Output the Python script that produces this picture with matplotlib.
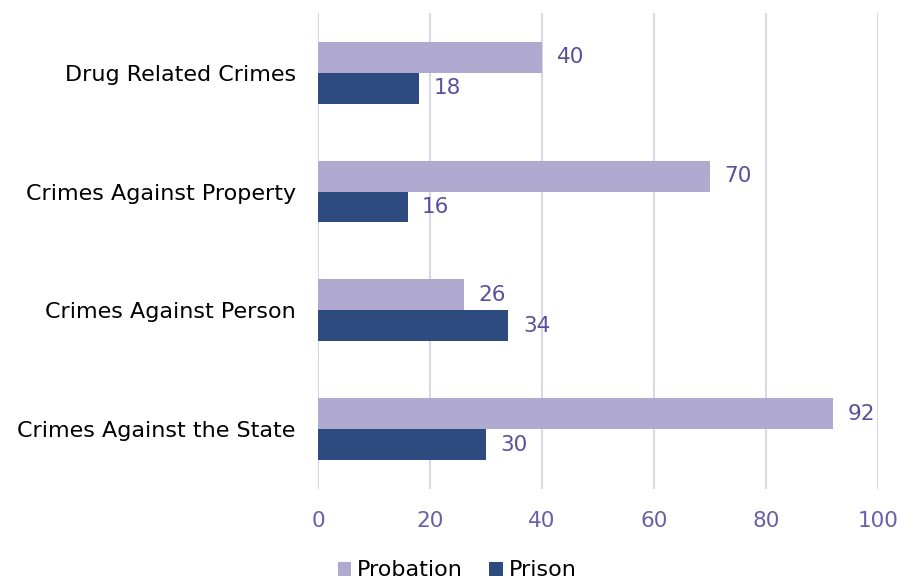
import numpy as np
import matplotlib.pyplot as plt

categories = ["Crimes Against the State", "Crimes Against Person",
              "Crimes Against Property", "Drug Related Crimes"]
probation = [92, 26, 70, 40]
prison = [30, 34, 16, 18]

c_prob = "#B0A9D0"
c_pris = "#2E4B80"
c_text = "#5B4F9C"

plt.rcParams['font.family'] = ['DejaVu Sans']

fig = plt.figure(figsize=(9.18, 5.83), dpi=100)
ax = fig.add_axes([0.3464, 0.162, 0.61, 0.815])

y = np.arange(len(categories))
h = 0.26
b1 = ax.barh(y + h / 2, probation, height=h, color=c_prob, label="Probation")
b2 = ax.barh(y - h / 2, prison, height=h, color=c_pris, label="Prison")

for bars, vals in ((b1, probation), (b2, prison)):
    for bar, v in zip(bars, vals):
        ax.text(v + 2.6, bar.get_y() + bar.get_height() / 2, str(v),
                va="center", ha="left", fontsize=15.5, color=c_text)

ax.set_xlim(0, 100)
ax.set_ylim(-0.5, 3.5)
ax.set_xticks(np.arange(0, 101, 20))
ax.set_yticks(y)
ax.set_yticklabels(categories, fontsize=16, color="black")
ax.tick_params(axis="x", labelsize=15.5, labelcolor="#6A5FA8", length=0, pad=16)
ax.tick_params(axis="y", length=0, pad=16)
ax.grid(axis="x", color="#D9D5EA", linewidth=1.5)
ax.set_axisbelow(True)
for s in ax.spines.values():
    s.set_visible(False)

ax.legend(loc="lower center", bbox_to_anchor=(0.498, -0.03),
          bbox_transform=fig.transFigure, ncol=2, frameon=False, fontsize=16,
          handlelength=0.6, handleheight=0.6, handletextpad=0.25, columnspacing=1.2)

fig.savefig("out.png", dpi=100)
